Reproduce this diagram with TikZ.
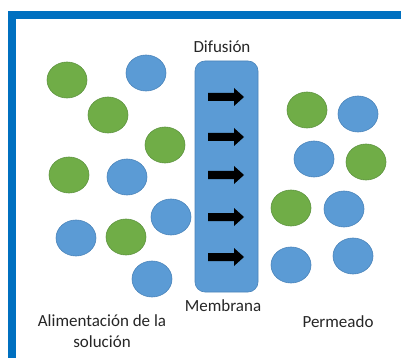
\documentclass[tikz,border=0pt]{standalone}
\usepackage{fontspec}
\setmainfont{Carlito}
\definecolor{framebl}{HTML}{0070C0}
\definecolor{gball}{HTML}{70AD47}
\definecolor{gline}{HTML}{5E9440}
\definecolor{bball}{HTML}{5B9BD5}
\definecolor{bline}{HTML}{4A84BA}
\definecolor{txt}{HTML}{262626}
\tikzset{
  gp/.style={ellipse, minimum width=40pt, minimum height=36pt, inner sep=0pt, fill=gball, draw=gline, line width=0.6pt},
  bp/.style={ellipse, minimum width=40pt, minimum height=36pt, inner sep=0pt, fill=bball, draw=bline, line width=0.6pt},
  lbl/.style={font=\fontsize{17}{21}\selectfont, text=txt, inner sep=0pt, align=center},
  flow/.style={fill=black},
}
\usetikzlibrary{shapes.geometric}
\begin{document}
\begin{tikzpicture}[x=1pt,y=-1pt]
\useasboundingbox (0,0) rectangle (401,358);
\fill[white] (0,0) rectangle (401,358);
\fill[framebl] (8,11) rectangle (401,358);
\fill[white] (16,19) rectangle (401,358);
% membrane
\node[draw=bline, fill=bball, rounded corners=10pt, line width=0.6pt, minimum width=63pt, minimum height=231pt, inner sep=0pt] (mem) at (226.5,176.5) {};
% arrows
\foreach \y/\n in {97/a1,137/a2,175/a3,217/a4,257/a5}{
  \coordinate (\n) at (208,\y);
  \fill[flow] (\n) ++(0,-4) -- ++(26,0) -- ++(0,-5) -- ++(10,9) -- ++(-10,9) -- ++(0,-5) -- ++(-26,0) -- cycle;
}
% left particles
\node[gp] (l1) at (67,80) {};
\node[bp] (l2) at (146,73) {};
\node[gp] (l3) at (108,115) {};
\node[gp] (l4) at (165,145) {};
\node[gp] (l5) at (69,175) {};
\node[bp] (l6) at (127,177) {};
\node[bp] (l7) at (171,217) {};
\node[bp] (l8) at (76,238) {};
\node[gp] (l9) at (126,237) {};
\node[bp] (l10) at (152,279) {};
% right particles
\node[gp] (r1) at (307,110) {};
\node[bp] (r2) at (358,114) {};
\node[bp] (r3) at (314,159) {};
\node[gp] (r4) at (366,162) {};
\node[gp] (r5) at (291,208) {};
\node[bp] (r6) at (344,209) {};
\node[bp] (r7) at (291,265) {};
\node[bp] (r8) at (353,256) {};
% labels
\node[lbl] (dif) at (222,47) {Difusión};
\node[lbl] (memb) at (223,306) {Membrana};
\node[lbl] (feed) at (102,331) {Alimentación de la\\solución};
\node[lbl] (perm) at (338,322) {Permeado};
\end{tikzpicture}
\end{document}
